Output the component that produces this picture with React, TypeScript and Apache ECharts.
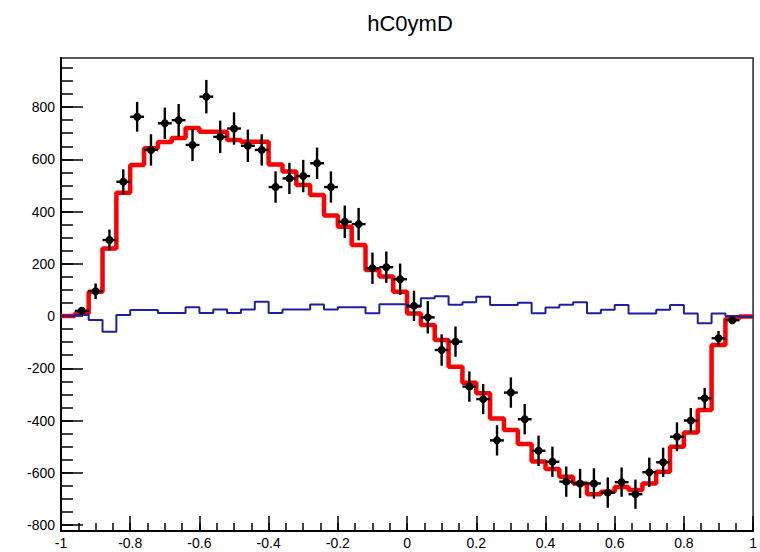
import React, { useEffect, useRef } from "react";
import * as echarts from "echarts";

// Histogram binning
const X_MIN = -1;
const X_MAX = 1;
const BIN_WIDTH = 0.04;
const N_BINS = 50;

// Axis range
const Y_MIN = -823;
const Y_MAX = 988;

// Fitted model histogram (red)
const fitHist = [
  0, 10, 93, 259, 472, 578, 642, 666, 682, 720,
  706, 706, 674, 667, 667, 580, 553, 502, 463, 385,
  342, 272, 176, 151, 93, 10, -34, -92, -194, -255,
  -296, -392, -436, -490, -557, -586, -615, -641, -682, -673,
  -655, -666, -641, -596, -500, -446, -360, -111, -10, -2,
];

// Difference histogram (blue)
const diffHist = [
  0, 5, -15, -60, 4, 23, 23, 12, 12, 34,
  12, 25, 12, 25, 55, 12, 25, 25, 44, 25,
  34, 34, 11, 45, 45, 36, 68, 76, 43, 53,
  74, 42, 42, 51, 11, 33, 43, 53, 11, 24,
  42, 10, 10, 24, 42, 10, -28, 10, 0, -3,
];

// Measured points (black) and their errors; null marks an empty bin
const dataValues: (number | null)[] = [
  null, 20, 95, 291, 514, 763, 636, 738, 750, 655,
  840, 686, 718, 652, 636, 494, 527, 536, 585, 494,
  361, 352, 183, 187, 141, 39, -5, -130, -98, -270,
  -318, -476, -293, -395, -516, -558, -634, -641, -641, -676,
  -636, -682, -598, -560, -462, -400, -315, -85, -16, null,
];
const dataErrors = [
  0, 14, 30, 40, 48, 57, 60, 60, 62, 62,
  64, 62, 62, 62, 60, 60, 60, 62, 60, 60,
  62, 62, 60, 60, 60, 58, 62, 60, 58, 58,
  58, 58, 58, 58, 58, 58, 58, 56, 58, 58,
  56, 56, 56, 56, 55, 48, 40, 28, 12, 0,
];

// Tick positions
const xMajorTicks = [-1, -0.8, -0.6, -0.4, -0.2, 0, 0.2, 0.4, 0.6, 0.8, 1];
const xMinorStep = 0.05;
const yMajorTicks = [-800, -600, -400, -200, 0, 200, 400, 600, 800];
const yMinorStep = 50;
const yMinorTop = 950;

const TITLE = "hC0ymD";
const FONT = '"Liberation Sans Narrow", "Liberation Sans", Arial, sans-serif';

const binLow = (i: number) => X_MIN + i * BIN_WIDTH;

function stepData(vals: number[]) {
  const pts = vals.map((v, i) => [binLow(i), v]);
  pts.push([X_MAX, vals[vals.length - 1]]);
  return pts;
}

function range(from: number, to: number, step: number) {
  const out: number[] = [];
  for (let k = 0; from + k * step <= to + 1e-9; k++) {
    out.push(Math.round((from + k * step) * 1000) / 1000);
  }
  return out;
}

export default function App() {
  const ref = useRef<HTMLDivElement>(null);

  useEffect(() => {
    if (!ref.current) return;
    const chart = echarts.init(ref.current, undefined, { renderer: "svg" });

    const xMinor = range(X_MIN, X_MAX, xMinorStep);
    const yMinor = range(yMajorTicks[0], yMinorTop, yMinorStep);

    const tickLine = { color: "#000", width: 1.5 };

    const points = dataValues
      .map((v, i) => (v === null ? null : [binLow(i) + BIN_WIDTH / 2, v, dataErrors[i]]))
      .filter((p) => p !== null);

    chart.setOption({
      animation: false,
      backgroundColor: "#fff",
      graphic: [
        {
          type: "text",
          x: 410,
          y: 12,
          style: {
            text: TITLE,
            fill: "#000",
            font: `22px ${FONT}`,
            textAlign: "center",
            textVerticalAlign: "top",
          },
        },
      ],
      grid: {
        left: 61,
        right: 3,
        top: 58,
        bottom: 21,
        show: true,
        borderColor: "#222",
        borderWidth: 1.5,
        backgroundColor: "transparent",
      },
      xAxis: [
        {
          type: "value",
          min: X_MIN,
          max: X_MAX,
          position: "bottom",
          axisLine: { show: true, onZero: false, lineStyle: { color: "#000", width: 2 } },
          axisTick: { show: true, inside: true, length: 15, customValues: xMajorTicks, lineStyle: tickLine },
          axisLabel: {
            show: true,
            customValues: xMajorTicks,
            formatter: (v: number) => String(Math.round(v * 10) / 10),
            color: "#000",
            fontSize: 14,
            fontFamily: FONT,
            margin: 5,
          },
          splitLine: { show: false },
        },
        {
          type: "value",
          min: X_MIN,
          max: X_MAX,
          position: "bottom",
          axisLine: { show: false, onZero: false },
          axisTick: { show: true, inside: true, length: 8, customValues: xMinor, lineStyle: tickLine },
          axisLabel: { show: false },
          splitLine: { show: false },
        },
      ],
      yAxis: [
        {
          type: "value",
          min: Y_MIN,
          max: Y_MAX,
          position: "left",
          axisLine: { show: true, onZero: false, lineStyle: { color: "#000", width: 2 } },
          axisTick: { show: true, inside: true, length: 22, customValues: yMajorTicks, lineStyle: tickLine },
          axisLabel: {
            show: true,
            customValues: yMajorTicks,
            formatter: (v: number) => String(v),
            color: "#000",
            fontSize: 14,
            fontFamily: FONT,
            margin: 6,
          },
          splitLine: { show: false },
        },
        {
          type: "value",
          min: Y_MIN,
          max: Y_MAX,
          position: "left",
          axisLine: { show: false, onZero: false },
          axisTick: { show: true, inside: true, length: 12, customValues: yMinor, lineStyle: tickLine },
          axisLabel: { show: false },
          splitLine: { show: false },
        },
      ],
      series: [
        {
          name: "fit",
          type: "line",
          step: "end",
          data: stepData(fitHist),
          symbol: "none",
          lineStyle: { color: "#ff0000", width: 4.5 },
          z: 2,
          clip: true,
        },
        {
          name: "diff",
          type: "line",
          step: "end",
          data: stepData(diffHist),
          symbol: "none",
          lineStyle: { color: "#1f1fa3", width: 2 },
          z: 3,
          clip: true,
        },
        {
          name: "data",
          type: "custom",
          z: 4,
          clip: true,
          encode: { x: 0, y: 1 },
          data: points,
          renderItem: (_params: any, api: any) => {
            const x = api.value(0);
            const y = api.value(1);
            const e = api.value(2);
            const c = api.coord([x, y]);
            const top = api.coord([x, y + e]);
            const bot = api.coord([x, y - e]);
            const l = api.coord([x - BIN_WIDTH / 2, y]);
            const r = api.coord([x + BIN_WIDTH / 2, y]);
            const st = { stroke: "#000", lineWidth: 2.4 };
            return {
              type: "group",
              children: [
                { type: "line", shape: { x1: c[0], y1: top[1], x2: c[0], y2: bot[1] }, style: st },
                { type: "line", shape: { x1: l[0], y1: c[1], x2: r[0], y2: c[1] }, style: st },
                { type: "circle", shape: { cx: c[0], cy: c[1], r: 4 }, style: { fill: "#000" } },
              ],
            };
          },
        },
      ],
    });

    return () => chart.dispose();
  }, []);

  return (
    <div
      ref={ref}
      style={{ position: "fixed", left: 0, top: 0, width: 760, height: 552 }}
    />
  );
}
